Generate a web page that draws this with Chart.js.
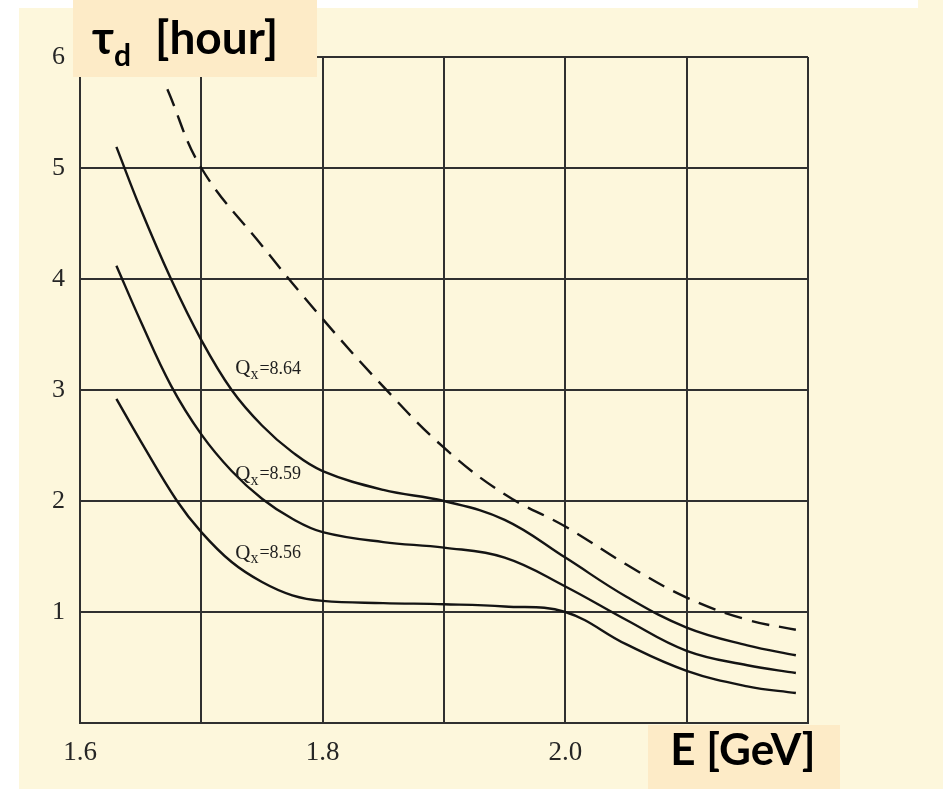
<!DOCTYPE html>
<html>
<head>
<meta charset="utf-8">
<script src="https://cdn.jsdelivr.net/npm/chart.js@4.4.1/dist/chart.umd.min.js"></script>
<style>
  html, body { margin: 0; padding: 0; background: #ffffff; }
  #wrap { width: 943px; height: 789px; position: relative; }
</style>
</head>
<body>
<div id="wrap"><canvas id="chart"></canvas></div>
<script>
// curves (E in GeV, tau_d in hours)
const eQ864 = [1.63, 1.65, 1.675, 1.70, 1.725, 1.75, 1.775, 1.80, 1.85, 1.90, 1.95, 2.00, 2.05, 2.10, 2.15, 2.19];
const tQ864 = [5.19, 4.63, 4.00, 3.45, 3.00, 2.68, 2.44, 2.27, 2.10, 2.00, 1.83, 1.49, 1.14, 0.86, 0.70, 0.61];

const eQ859 = [1.63, 1.65, 1.675, 1.70, 1.725, 1.75, 1.775, 1.80, 1.85, 1.90, 1.95, 2.00, 2.05, 2.10, 2.15, 2.19];
const tQ859 = [4.12, 3.62, 3.04, 2.60, 2.27, 2.02, 1.84, 1.72, 1.63, 1.58, 1.49, 1.23, 0.93, 0.65, 0.52, 0.45];

const eQ856 = [1.63, 1.65, 1.68, 1.70, 1.725, 1.75, 1.775, 1.80, 1.85, 1.90, 1.95, 2.00, 2.05, 2.10, 2.15, 2.19];
const tQ856 = [2.92, 2.54, 2.00, 1.72, 1.45, 1.27, 1.15, 1.10, 1.08, 1.07, 1.05, 1.00, 0.71, 0.47, 0.33, 0.27];

const eDash = [1.672, 1.70, 1.75, 1.80, 1.85, 1.90, 1.95, 2.00, 2.05, 2.10, 2.15, 2.19];
const tDash = [5.71, 5.00, 4.30, 3.64, 3.03, 2.48, 2.06, 1.77, 1.43, 1.13, 0.93, 0.84];

// curve labels
const labelQ = ['8.64', '8.59', '8.56'];
const labelE = [1.728, 1.728, 1.728];
const labelT = [3.19, 2.24, 1.53];

const xLabelsShown = ['1.6', '1.8', '2.0', '2.2'];

function pts(xs, ys) {
    return xs.map((x, i) => ({ x: x, y: ys[i] }));
}

const ink = '#141414';
const gridInk = '#303030';
const serif = '"Liberation Serif", "DejaVu Serif", serif';

const curveStyle = {
    borderColor: ink,
    borderWidth: 2.4,
    pointRadius: 0,
    fill: false,
    tension: 0.4
};

// paper background + overlay boxes + curve labels
const paperPlugin = {
    id: 'paper',
    beforeDraw(chart) {
        const c = chart.ctx;
        c.save();
        c.fillStyle = '#ffffff';
        c.fillRect(0, 0, chart.width, chart.height);
        c.fillStyle = '#fdf7dc';
        c.fillRect(19, 8, chart.width - 19, chart.height - 8);
        c.fillRect(918, 0, chart.width - 918, 8);
        c.restore();
    },
    afterDraw(chart) {
        const c = chart.ctx;
        const xs = chart.scales.x, ys = chart.scales.y;
        c.save();

        // Qx labels
        c.fillStyle = '#1e1e1e';
        c.textBaseline = 'middle';
        for (let i = 0; i < labelQ.length; i++) {
            let px = xs.getPixelForValue(labelE[i]);
            const py = ys.getPixelForValue(labelT[i]);
            c.font = '21px ' + serif;
            c.fillText('Q', px, py);
            px += c.measureText('Q').width;
            c.font = '16px ' + serif;
            c.fillText('x', px, py + 6);
            px += c.measureText('x').width + 1;
            c.font = '18px ' + serif;
            c.fillText('=' + labelQ[i], px, py);
        }

        // axis title boxes
        c.fillStyle = '#fdebc7';
        c.fillRect(73, 0, 244, 77);
        c.fillRect(648, 725, 192, 64);

        c.fillStyle = '#000000';
        c.textBaseline = 'alphabetic';
        c.font = 'bold 46px Lato, "Open Sans", sans-serif';
        c.fillText('\u03C4', 92, 54);
        let tx = 92 + c.measureText('\u03C4').width;
        c.font = 'bold 30px Lato, "Open Sans", sans-serif';
        c.fillText('d', tx, 66);
        c.font = 'bold 46px Lato, "Open Sans", sans-serif';
        c.fillText('[hour]', 155, 54);

        c.font = 'bold 44px Lato, "Open Sans", sans-serif';
        c.textAlign = 'center';
        c.fillText('E [GeV]', 743, 765);
        c.restore();
    }
};

const ctx = document.getElementById('chart').getContext('2d');
const chart = new Chart(ctx, {
    type: 'line',
    data: {
        datasets: [
            Object.assign({ label: 'Qx=8.64', data: pts(eQ864, tQ864) }, curveStyle),
            Object.assign({ label: 'Qx=8.59', data: pts(eQ859, tQ859) }, curveStyle),
            Object.assign({ label: 'Qx=8.56', data: pts(eQ856, tQ856) }, curveStyle),
            Object.assign({ label: 'limit', data: pts(eDash, tDash), borderDash: [18, 10] }, curveStyle)
        ]
    },
    options: {
        responsive: true,
        maintainAspectRatio: false,
        animation: false,
        layout: { padding: { top: 57, right: 135, left: 0, bottom: 0 } },
        plugins: {
            legend: { display: false },
            tooltip: { enabled: false }
        },
        scales: {
            x: {
                type: 'linear',
                min: 1.6,
                max: 2.2,
                afterFit(scale) { scale.height = 66; },
                grid: { color: gridInk, lineWidth: 2, drawTicks: false },
                border: { color: gridInk, width: 2 },
                ticks: {
                    stepSize: 0.1,
                    padding: 14,
                    color: '#262626',
                    font: { family: serif, size: 27 },
                    callback: (v) => {
                        const s = Number(v).toFixed(1);
                        return xLabelsShown.includes(s) ? s : '';
                    }
                }
            },
            y: {
                min: 0,
                max: 6,
                afterFit(scale) { scale.width = 80; },
                grid: { color: gridInk, lineWidth: 2, drawTicks: false },
                border: { color: gridInk, width: 2 },
                ticks: {
                    stepSize: 1,
                    padding: 15,
                    color: '#262626',
                    font: { family: serif, size: 26 },
                    callback: (v) => (v === 0 ? '' : String(v))
                }
            }
        }
    },
    plugins: [paperPlugin]
});
</script>
</body>
</html>
